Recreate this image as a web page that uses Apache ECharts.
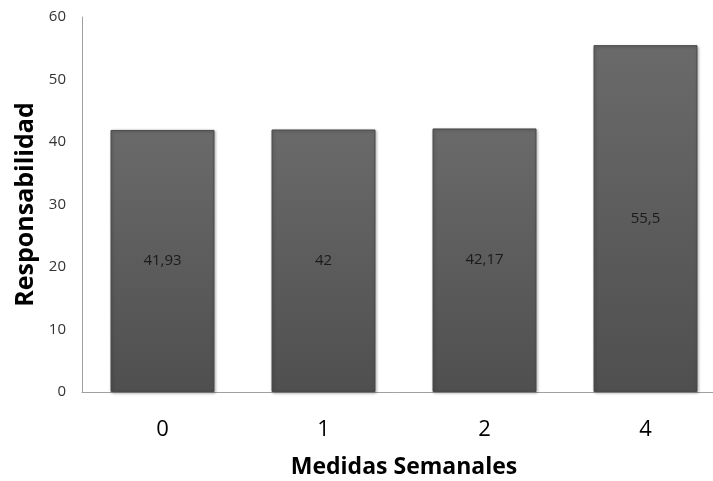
<!DOCTYPE html>
<html>
<head>
<meta charset="utf-8">
<script src="https://cdn.jsdelivr.net/npm/echarts@6/dist/echarts.min.js"></script>
<style>
  html, body { margin: 0; padding: 0; background: #fff; }
  #chart { width: 713px; height: 481px; }
</style>
</head>
<body>
<div id="chart"></div>
<script>
// datos
const categorias = ['0', '1', '2', '4'];
const valores = [41.93, 42, 42.17, 55.5];
const yMin = 0;
const yMax = 60;
const yPaso = 10;

const chart = echarts.init(document.getElementById('chart'));

const option = {
  animation: false,
  textStyle: { fontFamily: 'Open Sans' },
  grid: {
    left: 82,
    width: 644,
    top: 17,
    bottom: 89,
    outerBoundsMode: 'none'
  },
  xAxis: {
    type: 'category',
    data: categorias,
    name: 'Medidas Semanales',
    nameLocation: 'middle',
    nameGap: 64,
    nameTextStyle: {
      fontSize: 23,
      fontWeight: 'bold',
      color: '#000'
    },
    axisLine: { lineStyle: { color: '#a0a0a0', width: 1 } },
    axisTick: { show: false },
    axisLabel: { fontSize: 22, color: '#000', margin: 27 }
  },
  yAxis: {
    type: 'value',
    min: yMin,
    max: yMax,
    interval: yPaso,
    name: 'Responsabilidad',
    nameLocation: 'middle',
    nameGap: 42,
    nameTextStyle: {
      fontSize: 25,
      fontWeight: 'bold',
      color: '#000'
    },
    axisLine: { show: true, lineStyle: { color: '#a0a0a0', width: 1 } },
    axisTick: { show: false },
    splitLine: { show: false },
    axisLabel: { fontSize: 15, color: '#333', margin: 16 }
  },
  series: [
    {
      type: 'bar',
      data: valores,
      barWidth: 104,
      itemStyle: {
        color: new echarts.graphic.LinearGradient(0, 0, 0, 1, [
          { offset: 0, color: '#6a6a6a' },
          { offset: 1, color: '#4f4f4f' }
        ]),
        borderColor: '#4a4a4a',
        borderWidth: 1,
        shadowColor: 'rgba(0,0,0,0.3)',
        shadowBlur: 3,
        shadowOffsetX: 1,
        shadowOffsetY: 1
      },
      label: {
        show: true,
        position: 'inside',
        fontSize: 15,
        color: '#1a1a1a',
        formatter: p => String(p.value).replace('.', ',')
      }
    }
  ]
};

chart.setOption(option);
</script>
</body>
</html>
